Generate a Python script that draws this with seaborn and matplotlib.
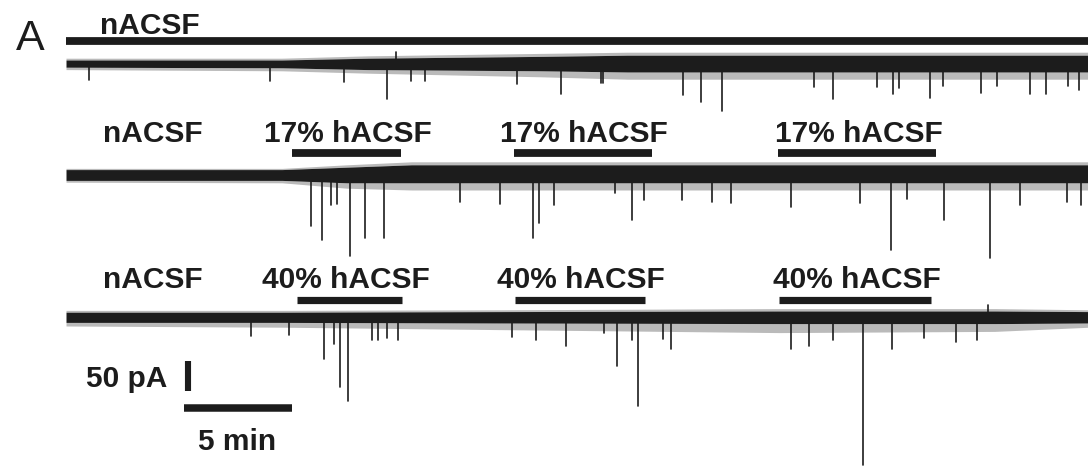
"""
Spontaneous currents in nACSF and hypotonic ACSF (panel A)
"""

import numpy as np
import pandas as pd
import matplotlib
matplotlib.use("Agg")
import matplotlib.pyplot as plt
import seaborn as sns

# ---- data (time in min, current in pA, inward events as positive amplitude) ----

# row 1: nACSF only
row1_spike_t = [1.06, 9.45, 12.86, 14.88, 15.99, 16.64, 20.88, 22.90, 24.75, 24.88,
                28.57, 29.40, 30.37, 34.61, 35.53, 37.56, 38.29, 38.57, 40.0, 40.6,
                42.35, 43.09, 44.61, 45.39, 46.41, 46.91]
row1_spike_amp = [28, 30, 32, 60, 30, 30, 35, 52, 33, 33,
                  53, 65, 80, 40, 60, 40, 52, 42, 58, 38,
                  50, 38, 52, 52, 38, 45]
row1_env_t = [0, 10, 14, 22, 26, 47.4]
row1_env_up = [5, 5, 8, 11, 13, 13]
row1_env_down = [7, 8, 11, 13, 15, 15]
row1_fringe_up = [8, 8, 12, 16, 18, 18]
row1_fringe_down = [11, 13, 17, 23, 27, 27]
row1_up_t = [15.3]
row1_up_amp = [18]

# row 2: 17% hACSF
row2_spike_t = [11.36, 11.84, 12.26, 12.56, 13.13, 13.82, 14.70, 18.25, 20.09, 21.61,
                21.89, 22.58, 25.4, 26.22, 26.77, 28.53, 29.91, 30.78, 33.55, 36.77,
                38.20, 38.94, 40.65, 42.76, 44.15, 46.36, 47.0]
row2_spike_amp = [85, 108, 50, 48, 135, 105, 105, 45, 48, 105,
                  80, 50, 30, 75, 42, 42, 45, 47, 53, 47,
                  125, 40, 75, 138, 50, 45, 50]
row2_env_t = [0, 10.0, 13.0, 16.0, 47.4]
row2_env_up = [9, 9, 13, 17, 17]
row2_env_down = [9, 9, 13, 13, 13]
row2_fringe_up = [11, 11, 17, 22, 22]
row2_fringe_down = [12, 13, 22, 25, 25]
row2_bars = [(10.46, 15.53), (20.74, 27.14), (32.95, 40.28)]

# row 3: 40% hACSF
row3_spike_t = [8.57, 10.32, 11.94, 12.40, 12.67, 13.04, 14.15, 14.45, 14.88, 15.39,
                20.65, 21.75, 23.13, 24.93, 25.53, 26.22, 26.47, 27.63, 28.02, 33.55,
                34.38, 35.53, 36.91, 38.25, 39.72, 41.2, 42.19]
row3_spike_amp = [32, 30, 70, 45, 117, 140, 38, 38, 35, 38,
                  33, 38, 48, 27, 82, 38, 148, 37, 53, 53,
                  48, 38, 247, 53, 35, 42, 38]
row3_env_t = [0, 10, 20, 33, 43, 47.4]
row3_env_up = [8, 8, 9, 10, 10, 9]
row3_env_down = [9, 9, 10, 11, 11, 10]
row3_fringe_up = [11, 11, 12, 14, 14, 12]
row3_fringe_down = [15, 17, 21, 26, 24, 17]
row3_up_t = [42.67]
row3_up_amp = [20]
row3_bars = [(10.69, 15.55), (20.78, 26.81), (33.0, 40.06)]

bar_label_17 = "17% hACSF"
bar_label_40 = "40% hACSF"
ctrl_label = "nACSF"

# ---- layout (figure pixels) ----
W, H = 1088, 470
X0 = 66            # px of t = 0
PX_PER_MIN = 21.6
PX_PER_PA = 0.6
row_base_px = [63, 175, 317]
bar_y_px = [41, 153, 300]
ink = "#1c1c1c"

sns.set_theme(style="white")
plt.rcParams["font.family"] = ["Liberation Sans", "DejaVu Sans"]

fig = plt.figure(figsize=(W / 100, H / 100), dpi=100)
ax = fig.add_axes([0, 0, 1, 1])


def base_y(i):
    return row_base_px[i] / PX_PER_PA


def draw_trace(i, env_t, up, down, f_up, f_down, spike_t, spike_amp, up_t=(), up_amp=()):
    b = base_y(i)
    env_t = np.array(env_t)
    up, down = np.array(up), np.array(down)
    ax.fill_between(env_t, b - up, b + down, color=ink, lw=0)
    # ragged noise edges
    ax.fill_between(env_t, b + down, b + np.array(f_down), color=ink, alpha=0.3, lw=0)
    ax.fill_between(env_t, b - np.array(f_up), b - up, color=ink, alpha=0.3, lw=0)
    # events as vertical segments, drawn through seaborn
    rows = []
    k = 0
    for t, a in zip(spike_t, spike_amp):
        rows.append({"t": t, "y": b, "id": k})
        rows.append({"t": t, "y": b + a, "id": k})
        k += 1
    for t, a in zip(up_t, up_amp):
        rows.append({"t": t, "y": b, "id": k})
        rows.append({"t": t, "y": b - a, "id": k})
        k += 1
    df = pd.DataFrame(rows)
    sns.lineplot(data=df, x="t", y="y", units="id", estimator=None, sort=False,
                 color=ink, lw=1.2, ax=ax, legend=False)


draw_trace(0, row1_env_t, row1_env_up, row1_env_down, row1_fringe_up, row1_fringe_down,
           row1_spike_t, row1_spike_amp, row1_up_t, row1_up_amp)
draw_trace(1, row2_env_t, row2_env_up, row2_env_down, row2_fringe_up, row2_fringe_down,
           row2_spike_t, row2_spike_amp)
draw_trace(2, row3_env_t, row3_env_up, row3_env_down, row3_fringe_up, row3_fringe_down,
           row3_spike_t, row3_spike_amp, row3_up_t, row3_up_amp)

# solution bars
ax.hlines(bar_y_px[0] / PX_PER_PA, 0, 47.4, color=ink, lw=5.6, capstyle="butt")
for t0, t1 in row2_bars:
    ax.hlines(bar_y_px[1] / PX_PER_PA, t0, t1, color=ink, lw=5.6, capstyle="butt")
for t0, t1 in row3_bars:
    ax.hlines(bar_y_px[2] / PX_PER_PA, t0, t1, color=ink, lw=5.2, capstyle="butt")

# scale bars: 50 pA, 5 min
sb_t = (188 - X0) / PX_PER_MIN
sb_top = 361 / PX_PER_PA
ax.vlines(sb_t, sb_top, sb_top + 50, color=ink, lw=4.4, capstyle="butt")
hb_t0 = (184 - X0) / PX_PER_MIN
ax.hlines(408 / PX_PER_PA, hb_t0, hb_t0 + 5, color=ink, lw=5.4, capstyle="butt")

ax.set_xlim(-X0 / PX_PER_MIN, (W - X0) / PX_PER_MIN)
ax.set_ylim(H / PX_PER_PA, 0)
ax.axis("off")


def label(x, y, s, size=21.5, weight="bold"):
    fig.text(x / W, 1 - y / H, s, ha="center", va="baseline",
             fontsize=size, fontweight=weight, color=ink)


label(30.5, 50, "A", size=31, weight="normal")
label(150, 34, ctrl_label)
label(153, 142, ctrl_label)
for cx in [348, 584, 859]:
    label(cx, 142, bar_label_17)
label(153, 288, ctrl_label)
for cx in [346, 581, 857]:
    label(cx, 288, bar_label_40)
label(126.5, 387, "50 pA")
label(237, 450, "5 min")

fig.savefig("out.png", dpi=100)
